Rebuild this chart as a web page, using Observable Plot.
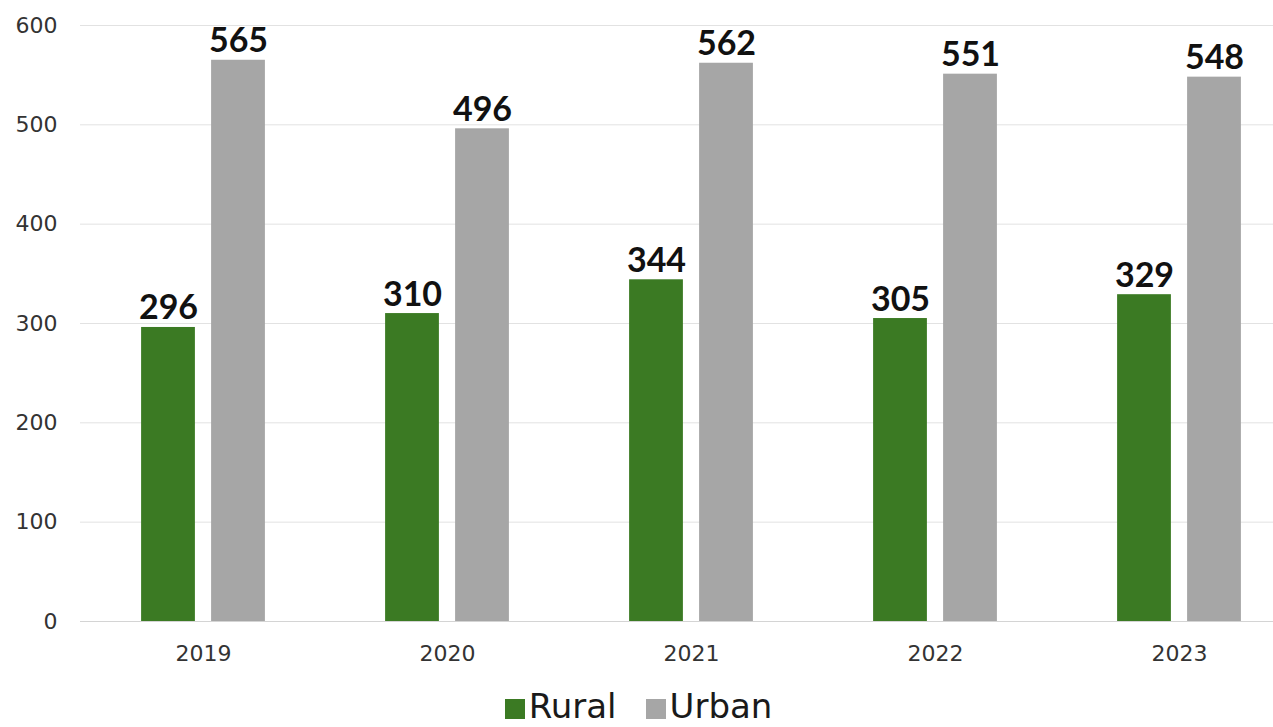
<!DOCTYPE html>
<html><head><meta charset="utf-8">
<script src="https://cdn.jsdelivr.net/npm/d3@7"></script>
<script src="https://cdn.jsdelivr.net/npm/@observablehq/plot@0.6"></script>
<style>
body{margin:0;background:#fff;font-family:"DejaVu Sans",Lato,sans-serif;}
#chart svg{display:block;}
#legend{display:flex;justify-content:center;align-items:center;padding-top:9px;padding-left:4px;font-size:34px;line-height:34px;color:#1a1a1a;font-family:"DejaVu Sans",sans-serif;}
#legend .item{display:flex;align-items:center;}
#legend .sw{width:20px;height:20px;margin-right:4px;position:relative;top:3px;}
#legend .item + .item{margin-left:29px;}
</style></head><body>
<div id="chart"></div>
<div id="legend"></div>
<script>
const years = ["2019", "2020", "2021", "2022", "2023"];
const rural = [296, 310, 344, 305, 329];
const urban = [565, 496, 562, 551, 548];
const seriesNames = ["Rural", "Urban"];
const seriesColors = ["#3b7a23", "#a6a6a6"];
const yTicks = [0, 100, 200, 300, 400, 500, 600];

const data = years.flatMap((yr, i) => [
  {year: yr, series: "Rural", value: rural[i]},
  {year: yr, series: "Urban", value: urban[i]}
]);

const W = 1273, H = 680, mL = 80, mT = 25, mB = 59;
const step = 244.2, barW = 54, offset = 35;
const half = step / 2;
const insetA = half - offset - barW / 2;
const insetB = step - insetA - barW;

const ruralData = data.filter(d => d.series === "Rural");
const urbanData = data.filter(d => d.series === "Urban");

const plot = Plot.plot({
  width: W, height: H,
  marginLeft: mL, marginRight: 0, marginTop: mT, marginBottom: mB,
  style: {fontFamily: "'DejaVu Sans', sans-serif", fontSize: "22px", color: "#333", background: "#fff"},
  x: {domain: years, range: [mL, mL + step * years.length], padding: 0},
  y: {domain: [0, 600]},
  color: {domain: seriesNames, range: seriesColors},
  marks: [
    Plot.gridY(yTicks, {stroke: "#e2e2e2", strokeOpacity: 1}),
    Plot.ruleY([0], {stroke: "#d4d4d4"}),
    Plot.barY(ruralData, {x: "year", y: "value", fill: "series", insetLeft: insetA, insetRight: insetB}),
    Plot.barY(urbanData, {x: "year", y: "value", fill: "series", insetLeft: insetB, insetRight: insetA}),
    Plot.text(ruralData, {x: "year", y: "value", text: d => String(d.value), dx: -offset, dy: -8, lineAnchor: "bottom", fontSize: 34, fontWeight: "bold", fontFamily: "Lato, sans-serif", fill: "#111"}),
    Plot.text(urbanData, {x: "year", y: "value", text: d => String(d.value), dx: offset, dy: -8, lineAnchor: "bottom", fontSize: 34, fontWeight: "bold", fontFamily: "Lato, sans-serif", fill: "#111"}),
    Plot.axisY({ticks: yTicks, tickSize: 0, tickPadding: 23, label: null, fill: "#333"}),
    Plot.axisX({tickSize: 0, tickPadding: 24, label: null, fill: "#333"})
  ]
});
document.getElementById("chart").appendChild(plot);

const legend = document.getElementById("legend");
seriesNames.forEach((name, i) => {
  const item = document.createElement("div");
  item.className = "item";
  const sw = document.createElement("span");
  sw.className = "sw";
  sw.style.background = seriesColors[i];
  const label = document.createElement("span");
  label.textContent = name;
  item.appendChild(sw);
  item.appendChild(label);
  legend.appendChild(item);
});
</script>
</body></html>
